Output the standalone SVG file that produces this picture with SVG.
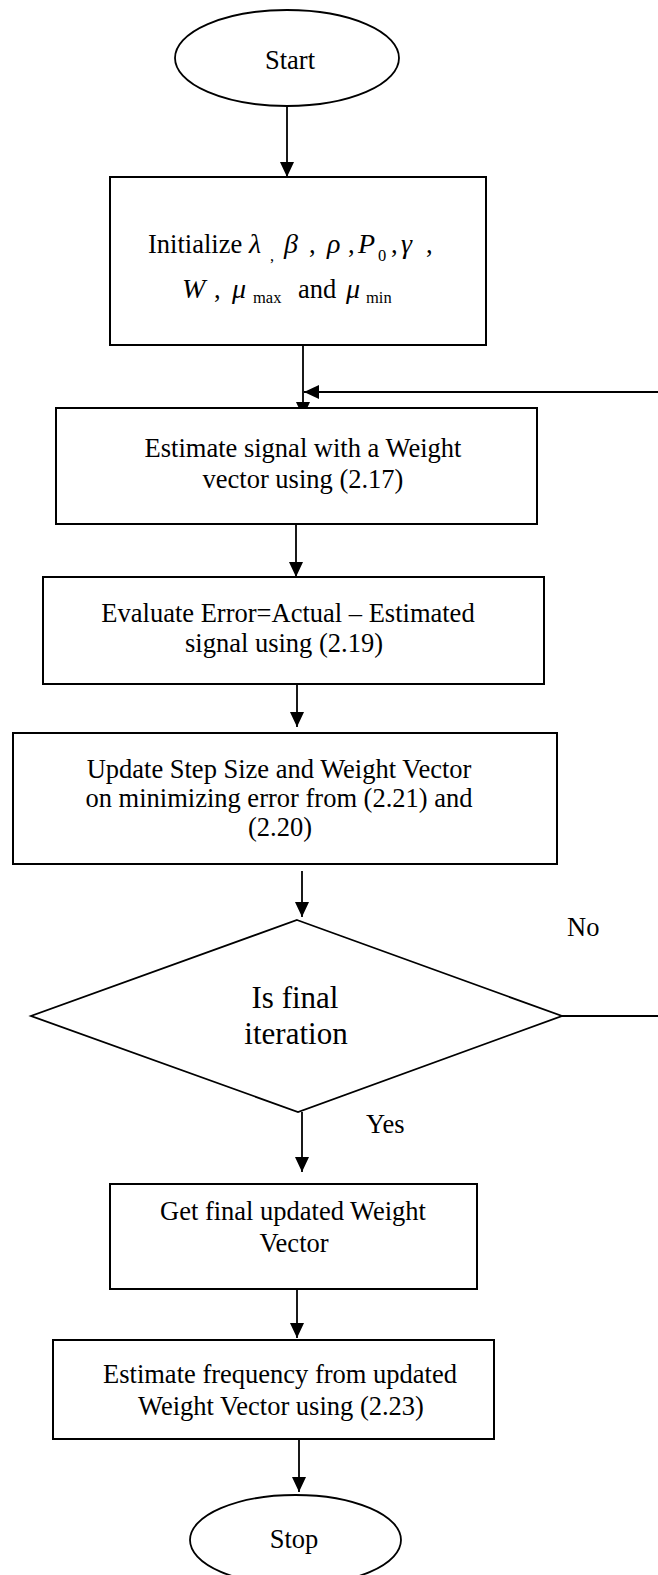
<svg xmlns="http://www.w3.org/2000/svg" width="658" height="1575" viewBox="0 0 658 1575">
  <style>
    .shape { fill: #ffffff; stroke: #000000; stroke-width: 2; }
    .term { fill: #ffffff; stroke: #000000; stroke-width: 1.8; }
    .wire { fill: none; stroke: #000000; stroke-width: 1.8; }
    .lbl { font-family: "Liberation Serif", "Times New Roman", serif; font-size: 26.5px; fill: #000000; }
    .mid { text-anchor: middle; }
    .it { font-style: italic; font-size: 28px; }
    .sub { font-size: 16.5px; }
    .big { font-size: 31px; }
  </style>
  <defs>
    <marker id="arrow" markerUnits="userSpaceOnUse" markerWidth="16" markerHeight="16" refX="15" refY="7" orient="auto">
      <path d="M0,0 L15,7 L0,14 Z" fill="#000000"/>
    </marker>
  </defs>

  <!-- connectors -->
  <g id="connectors">
    <line class="wire" x1="287" y1="106" x2="287" y2="177" marker-end="url(#arrow)"/>
    <line class="wire" x1="303" y1="345" x2="303" y2="417" marker-end="url(#arrow)"/>
    <line class="wire" x1="658" y1="392" x2="304" y2="392" marker-end="url(#arrow)"/>
    <line class="wire" x1="296" y1="524" x2="296" y2="577" marker-end="url(#arrow)"/>
    <line class="wire" x1="297" y1="684" x2="297" y2="727" marker-end="url(#arrow)"/>
    <line class="wire" x1="302" y1="871" x2="302" y2="917" marker-end="url(#arrow)"/>
    <line class="wire" x1="562" y1="1016" x2="658" y2="1016"/>
    <line class="wire" x1="302" y1="1112" x2="302" y2="1172" marker-end="url(#arrow)"/>
    <line class="wire" x1="297" y1="1289" x2="297" y2="1338" marker-end="url(#arrow)"/>
    <line class="wire" x1="299" y1="1439" x2="299" y2="1492" marker-end="url(#arrow)"/>
    <text class="lbl" x="567" y="936">No</text>
    <text class="lbl" x="366" y="1133">Yes</text>
  </g>

  <!-- start terminal -->
  <g id="start">
    <ellipse class="term" cx="287" cy="58" rx="112" ry="48"/>
    <text class="lbl mid" x="290" y="69">Start</text>
  </g>

  <!-- initialisation -->
  <g id="init">
    <rect class="shape" x="110" y="177" width="376" height="168"/>
    <text class="lbl" x="148" y="253">Initialize</text>
    <text class="lbl it" x="249" y="253">λ</text>
    <text class="lbl sub" x="270" y="261">,</text>
    <text class="lbl it" x="284" y="253">β</text>
    <text class="lbl" x="309" y="253">,</text>
    <text class="lbl it" x="327" y="253">ρ</text>
    <text class="lbl" x="348" y="253">,</text>
    <text class="lbl it" x="358" y="253">P</text>
    <text class="lbl sub" x="378" y="261">0</text>
    <text class="lbl" x="391" y="253">,</text>
    <text class="lbl it" x="401" y="253">γ</text>
    <text class="lbl" x="426" y="253">,</text>
    <text class="lbl it" x="182" y="298">W</text>
    <text class="lbl" x="214" y="298">,</text>
    <text class="lbl it" x="232" y="298">μ</text>
    <text class="lbl sub" x="253" y="303">max</text>
    <text class="lbl" x="298" y="298">and</text>
    <text class="lbl it" x="346" y="298">μ</text>
    <text class="lbl sub" x="366" y="303">min</text>
  </g>

  <!-- signal estimate -->
  <g id="estimate">
    <rect class="shape" x="56" y="408" width="481" height="116"/>
    <text class="lbl mid" x="303" y="457">Estimate signal with a Weight</text>
    <text class="lbl mid" x="303" y="488">vector using (2.17)</text>
  </g>

  <!-- error evaluation -->
  <g id="evaluate">
    <rect class="shape" x="43" y="577" width="501" height="107"/>
    <text class="lbl mid" x="288" y="622">Evaluate Error=Actual – Estimated</text>
    <text class="lbl mid" x="284" y="652">signal using (2.19)</text>
  </g>

  <!-- update -->
  <g id="update">
    <rect class="shape" x="13" y="733" width="544" height="131"/>
    <text class="lbl mid" x="279" y="778">Update Step Size and Weight Vector</text>
    <text class="lbl mid" x="279" y="807">on minimizing error from (2.21) and</text>
    <text class="lbl mid" x="280" y="836">(2.20)</text>
  </g>

  <!-- decision -->
  <g id="decision">
    <polygon class="term" points="297,920 562,1016 298,1112 31,1016"/>
    <text class="lbl big mid" x="295" y="1008">Is final</text>
    <text class="lbl big mid" x="296" y="1044">iteration</text>
  </g>

  <!-- final weights -->
  <g id="final">
    <rect class="shape" x="110" y="1184" width="367" height="105"/>
    <text class="lbl mid" x="293" y="1220">Get final updated Weight</text>
    <text class="lbl mid" x="294" y="1252">Vector</text>
  </g>

  <!-- frequency estimate -->
  <g id="frequency">
    <rect class="shape" x="53" y="1340" width="441" height="99"/>
    <text class="lbl mid" x="280" y="1383">Estimate frequency from updated</text>
    <text class="lbl mid" x="281" y="1415">Weight Vector using (2.23)</text>
  </g>

  <!-- stop terminal -->
  <g id="stop">
    <ellipse class="term" cx="295.5" cy="1540" rx="105.5" ry="45"/>
    <text class="lbl mid" x="294" y="1548">Stop</text>
  </g>
</svg>
